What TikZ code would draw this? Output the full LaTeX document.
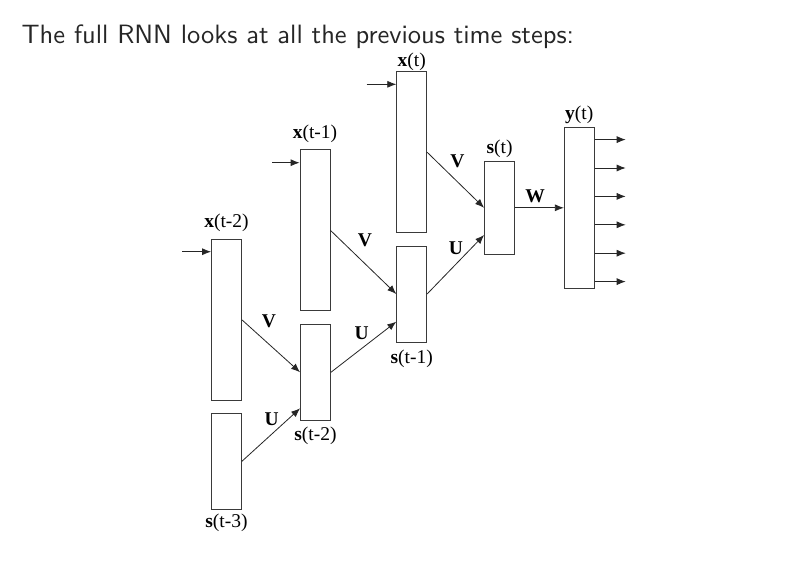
\documentclass[tikz,border=0pt]{standalone}
\usepackage{fontspec}
\usetikzlibrary{arrows.meta}
\newfontfamily\rnnfont{Liberation Serif}
\newfontfamily\headfont{lmsans10-regular}[Extension=.otf]
\definecolor{boxline}{HTML}{3A3A3A}
\definecolor{titletext}{HTML}{262626}

\tikzset{
  xlayer/.style={draw=boxline, line width=0.8pt, minimum width=30pt, minimum height=161pt, inner sep=0pt},
  slayer/.style={xlayer, minimum height=96pt},
  lbl/.style={font=\rnnfont\fontsize{19.5}{20}\selectfont, inner sep=0pt},
  wlbl/.style={lbl, font=\rnnfont\bfseries\fontsize{19.5}{20}\selectfont},
}

\begin{document}
\begin{tikzpicture}[x=1pt,y=-1pt]
    \useasboundingbox[fill=white] (0,0) rectangle (798,586);
    %% The heading
    \node[anchor=base west, inner sep=0pt, text=titletext,
          font=\headfont\fontsize{26.5}{30}\selectfont] (title) at (21.5,43.3)
          {The full RNN looks at all the previous time steps:};
    %% Draw the layers
    \node[xlayer] (xt2) at (226.5,319.8) {};
    \node[slayer] (st3) at (226.5,461.3) {};
    \node[xlayer] (xt1) at (315,230.3) {};
    \node[slayer] (st2) at (315.5,372.3) {};
    \node[xlayer] (xt) at (411.7,152.2) {};
    \node[slayer] (st1) at (411.7,294) {};
    \node[slayer, minimum height=92.3pt] (st) at (499.5,207.8) {};
    \node[xlayer] (yt) at (579.3,207.8) {};
    %% Name the layers
    \node[lbl, anchor=base] (lxt2) at ([yshift=11pt]xt2.north) {\textbf{x}(t-2)};
    \node[lbl, anchor=base] (lst3) at ([yshift=-18pt]st3.south) {\textbf{s}(t-3)};
    \node[lbl, anchor=base] (lxt1) at ([yshift=10.8pt]xt1.north) {\textbf{x}(t-1)};
    \node[lbl, anchor=base] (lst2) at ([yshift=-19.7pt]st2.south) {\textbf{s}(t-2)};
    \node[lbl, anchor=base] (lxt) at ([yshift=4.7pt]xt.north) {\textbf{x}(t)};
    \node[lbl, anchor=base] (lst1) at ([yshift=-20.6pt]st1.south) {\textbf{s}(t-1)};
    \node[lbl, anchor=base] (lst) at ([yshift=8.2pt]st.north) {\textbf{s}(t)};
    \node[lbl, anchor=base] (lyt) at ([yshift=7.8pt]yt.north) {\textbf{y}(t)};
    %% Draw the weight names
    \node[wlbl] (V2) at (269,321.7) {V};
    \node[wlbl] (U3) at (271.7,419) {U};
    \node[wlbl] (V1) at (365,240) {V};
    \node[wlbl] (U2) at (361.7,333.3) {U};
    \node[wlbl] (V0) at (457.3,161.7) {V};
    \node[wlbl] (U1) at (456,248.3) {U};
    \node[wlbl] (W0) at (535,196) {W};
    %% Free ends of the inputs
    \coordinate (in2) at (182,251.7);
    \coordinate (in1) at (272,162.7);
    \coordinate (in0) at (366.7,84.3);
    %% Draw the edges
    \begin{scope}[every path/.style={-{Latex[length=9pt,width=7pt]}, line width=0.8pt, draw=black!85}]
      \draw (in2) -- (in2 -| xt2.west);
      \draw (in1) -- (in1 -| xt1.west);
      \draw (in0) -- (in0 -| xt.west);
      \draw (xt2.east) -- (st2.west);
      \draw (st3.east) -- ([yshift=-36pt]st2.west);
      \draw (xt1.east) -- (st1.west);
      \draw (st2.east) -- ([yshift=-27.7pt]st1.west);
      \draw (xt.east) -- (st.west);
      \draw (st1.east) -- ([yshift=-27.2pt]st.west);
      \draw (st.east) -- (yt.west);
      \foreach \i in {1,...,6} {
        \coordinate (out\i) at ([xshift=31pt, yshift={-12.7pt-(\i-1)*28.4pt}]yt.north east);
        \draw (out\i -| yt.east) -- (out\i);
      }
    \end{scope}
  \end{tikzpicture}
\end{document}
